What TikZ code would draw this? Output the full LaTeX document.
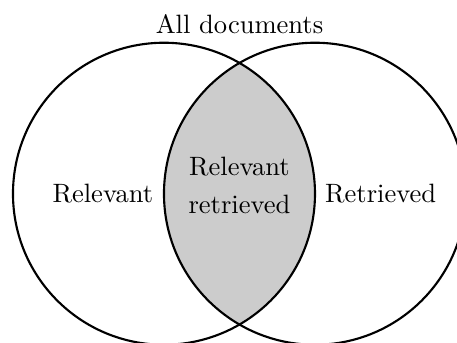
\documentclass[tikz,border=0pt]{standalone}
\begin{document}
\begin{tikzpicture}[
  setcircle/.style={circle, draw, line width=0.8pt, minimum size=4cm, inner sep=0pt},
  lbl/.style={font=\normalsize, align=center, inner sep=0pt}
]
\useasboundingbox (-2.172,-1.964) rectangle (3.881,2.566);
\clip (-2.172,-1.964) rectangle (3.881,2.566);
\begin{scope}
  \clip (0,0) circle (2cm);
  \fill[black!20] (2,0) circle (2cm);
\end{scope}
\node[setcircle] (relset) at (0,0) {};
\node[setcircle] (retset) at (2,0) {};
\node[lbl] (all) at (1,2.25) {All documents};
\node[lbl] (rel) at (-0.81,0) {Relevant};
\node[lbl] (ret) at (2.87,0) {Retrieved};
\node[lbl] (both) at (1,0.11) {Relevant\\[2pt]retrieved};
\end{tikzpicture}
\end{document}
